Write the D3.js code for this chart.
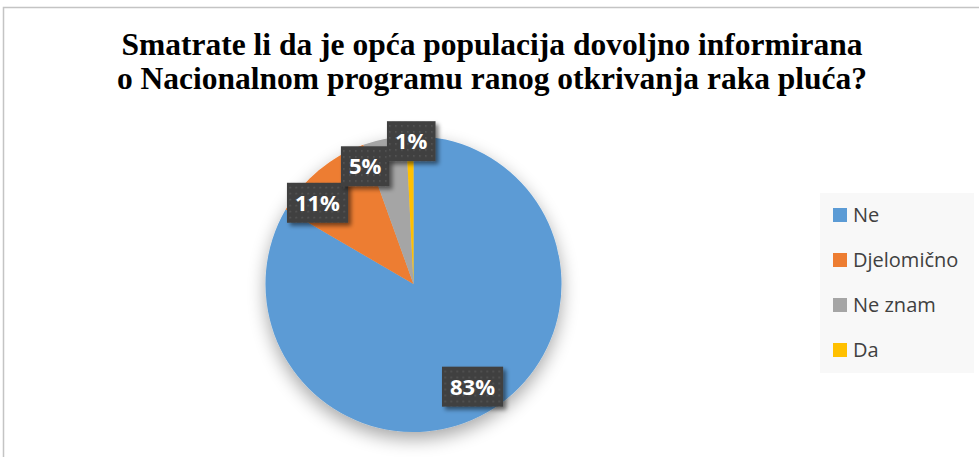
<!DOCTYPE html>
<html>
<head>
<meta charset="utf-8">
<script src="https://cdn.jsdelivr.net/npm/d3@7/dist/d3.min.js"></script>
<style>
  body { margin: 0; background: #fff; }
  svg { display: block; }
</style>
</head>
<body>
<div id="chart"></div>
<script>
// data
const categories = ['Ne', 'Djelomično', 'Ne znam', 'Da'];
const shares = [83.4, 11.1, 4.7, 0.8];
const colors = ['#5b9bd5', '#ed7d31', '#a5a5a5', '#ffc000'];
const titleLines = ['Smatrate li da je opća populacija dovoljno informirana',
                    'o Nacionalnom programu ranog otkrivanja raka pluća?'];

// label placement (radius factor, angle nudge in degrees), like Excel's best fit
const labelPlace = [
  { r: 0.80, nudge: 0 },
  { r: 0.85, nudge: -10 },
  { r: 0.86, nudge: -11 },
  { r: 0.965, nudge: 0.5 }
];

const width = 979, height = 457;
const cx = 413.5, cy = 284, radius = 148;

const svg = d3.select('#chart').append('svg')
  .attr('width', width)
  .attr('height', height);

const defs = svg.append('defs');

// soft shadow under the pie
const pieShadow = defs.append('filter').attr('id', 'pieShadow')
  .attr('x', '-30%').attr('y', '-30%').attr('width', '160%').attr('height', '160%');
pieShadow.append('feGaussianBlur').attr('in', 'SourceAlpha').attr('stdDeviation', 9).attr('result', 'blur');
pieShadow.append('feOffset').attr('in', 'blur').attr('dy', 7).attr('result', 'off');
pieShadow.append('feComponentTransfer').attr('in', 'off').attr('result', 'shade')
  .append('feFuncA').attr('type', 'linear').attr('slope', 0.35);
const m1 = pieShadow.append('feMerge');
m1.append('feMergeNode').attr('in', 'shade');
m1.append('feMergeNode').attr('in', 'SourceGraphic');

// shadow for the label boxes
const boxShadow = defs.append('filter').attr('id', 'boxShadow')
  .attr('x', '-30%').attr('y', '-30%').attr('width', '160%').attr('height', '160%');
boxShadow.append('feGaussianBlur').attr('in', 'SourceAlpha').attr('stdDeviation', 2).attr('result', 'blur');
boxShadow.append('feOffset').attr('in', 'blur').attr('dx', 3).attr('dy', 3).attr('result', 'off');
boxShadow.append('feComponentTransfer').attr('in', 'off').attr('result', 'shade')
  .append('feFuncA').attr('type', 'linear').attr('slope', 0.5);
const m2 = boxShadow.append('feMerge');
m2.append('feMergeNode').attr('in', 'shade');
m2.append('feMergeNode').attr('in', 'SourceGraphic');

// dotted dark fill for the label boxes
const dots = defs.append('pattern').attr('id', 'dots')
  .attr('patternUnits', 'userSpaceOnUse').attr('width', 6).attr('height', 6);
dots.append('rect').attr('width', 6).attr('height', 6).attr('fill', '#404040');
dots.append('rect').attr('x', 2).attr('y', 2).attr('width', 1.5).attr('height', 1.5).attr('fill', '#5a5a5a');

// chart border (top and left edges visible)
svg.append('path')
  .attr('d', `M3.5,${height} V7.5 H${width}`)
  .attr('fill', 'none')
  .attr('stroke', '#c4c4c4')
  .attr('stroke-width', 1.5);

// title, one text per line
svg.append('g')
  .selectAll('text')
  .data(titleLines)
  .join('text')
  .attr('x', 492)
  .attr('y', (d, i) => 55 + i * 34)
  .attr('text-anchor', 'middle')
  .attr('font-family', '"Liberation Serif", "Times New Roman", serif')
  .attr('font-weight', 'bold')
  .attr('font-size', 31.5)
  .attr('fill', '#000')
  .text(d => d);

// pie
const total = d3.sum(shares);
const pie = d3.pie().sort(null).value(d => d)(shares);
const arc = d3.arc().innerRadius(0).outerRadius(radius);

const g = svg.append('g').attr('transform', `translate(${cx},${cy})`);

g.append('g')
  .attr('filter', 'url(#pieShadow)')
  .selectAll('path')
  .data(pie)
  .join('path')
  .attr('d', arc)
  .attr('fill', (d, i) => colors[i]);

// data labels
const labels = g.append('g').selectAll('g')
  .data(pie)
  .join('g')
  .attr('transform', (d, i) => {
    const a = (d.startAngle + d.endAngle) / 2 + labelPlace[i].nudge * Math.PI / 180;
    const r = radius * labelPlace[i].r;
    return `translate(${r * Math.sin(a)},${-r * Math.cos(a)})`;
  });

labels.append('text')
  .attr('text-anchor', 'middle')
  .attr('dy', '0.36em')
  .attr('font-family', '"Open Sans", sans-serif')
  .attr('font-weight', 'bold')
  .attr('font-size', 22)
  .attr('fill', '#fff')
  .text(d => Math.round(d.value / total * 100) + '%');

labels.each(function () {
  const t = d3.select(this).select('text');
  const bb = t.node().getBBox();
  d3.select(this).insert('rect', 'text')
    .attr('x', bb.x - 8)
    .attr('y', -20)
    .attr('width', bb.width + 16)
    .attr('height', 40)
    .attr('fill', 'url(#dots)')
    .attr('filter', 'url(#boxShadow)');
});

// legend
const legend = svg.append('g');
legend.append('rect')
  .attr('x', 820).attr('y', 193)
  .attr('width', 154).attr('height', 180)
  .attr('fill', '#f8f8f8');

const rowY = d3.scalePoint().domain(categories).range([215, 350]);
const rows = legend.selectAll('g.row')
  .data(categories)
  .join('g')
  .attr('class', 'row')
  .attr('transform', d => `translate(833,${rowY(d)})`);

rows.append('rect')
  .attr('x', 0).attr('y', -7)
  .attr('width', 14).attr('height', 14)
  .attr('fill', (d, i) => colors[i]);

rows.append('text')
  .attr('x', 20)
  .attr('dy', '0.36em')
  .attr('font-family', '"Open Sans", sans-serif')
  .attr('font-size', 20)
  .attr('fill', '#404040')
  .text(d => d);
</script>
</body>
</html>
